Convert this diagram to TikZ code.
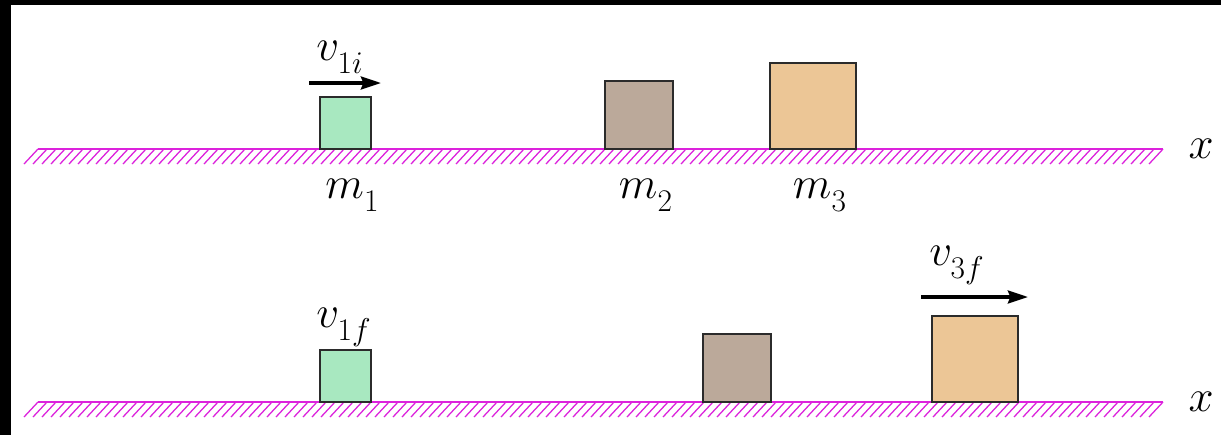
\RequirePackage{fix-cm}
\documentclass[tikz,border=0pt]{standalone}
\usepackage{tikz}
\usetikzlibrary{arrows.meta,positioning}
\definecolor{Mint}{HTML}{A8E8C0}
\definecolor{Taupe}{HTML}{BBA99A}
\definecolor{Tan}{HTML}{ECC696}
\definecolor{Floor}{HTML}{DC22DC}
\definecolor{Edge}{HTML}{2B2B2B}
\newcommand{\lsub}[2]{#1_{\raisebox{-0.14em}{$\scriptstyle #2$}}}

\begin{document}
\begin{tikzpicture}[
  x=0.025cm,y=-0.025cm,
  node distance=0.75cm,
  font=\fontsize{32}{38}\selectfont,
  block/.style={draw=Edge,line width=1.2pt,inner sep=0pt,outer sep=0pt,anchor=south west},
  small/.style={block,fill=Mint,minimum width=1.275cm,minimum height=1.3cm},
  mid/.style={block,fill=Taupe,minimum width=1.7cm,minimum height=1.7cm},
  big/.style={block,fill=Tan,minimum width=2.15cm,minimum height=2.15cm},
  ground/.style={draw=Floor,line width=1.6pt},
  hatch/.style={draw=Floor,line width=0.9pt},
  vel/.style={-{Stealth[length=5mm,width=3.2mm,inset=0.6mm]},line width=2.6pt},
  lbl/.style={inner sep=0pt},
  mass/.style={lbl,xshift=0.17cm},
  speed/.style={lbl,anchor=base west}
]
\useasboundingbox (0,0) rectangle (1221,435);
\fill[white] (0,0) rectangle (1221,435);
\fill[black] (0,0) rectangle (11,435);
\fill[black] (0,0) rectangle (1221,5);

% floors
\foreach \gy in {149,402}{
  \draw[ground] (38,\gy) -- (1163,\gy);
  \foreach \hx in {38,47,...,1163}
    \draw[hatch] (\hx,\gy) -- ++(-14,15);
  \node[lbl] (x\gy) at (1201,\gy) {$x$};
}

% before the collision
\node[small] (m1a) at (320,149) {};
\node[mid]   (m2a) at (605,149) {};
\node[big]   (m3a) at (770,149) {};
\node[mass,below=of m1a] (lm1) {$\lsub{m}{1}$};
\node[mass,below=of m2a] (lm2) {$\lsub{m}{2}$};
\node[mass,below=of m3a] (lm3) {$\lsub{m}{3}$};
\coordinate (va) at (309,83);
\draw[vel] (va) -- ++(72,0);
\node[speed] (v1i) at (316,60) {$\lsub{v}{1i}$};

% after the collision
\node[small] (m1b) at (320,402) {};
\node[mid]   (m2b) at (703,402) {};
\node[big]   (m3b) at (932,402) {};
\node[speed] (v1f) at (316,327) {$\lsub{v}{1f}$};
\coordinate (vb) at (921,297);
\draw[vel] (vb) -- ++(107,0);
\node[speed] (v3f) at (929,265) {$\lsub{v}{3f}$};
\end{tikzpicture}
\end{document}
